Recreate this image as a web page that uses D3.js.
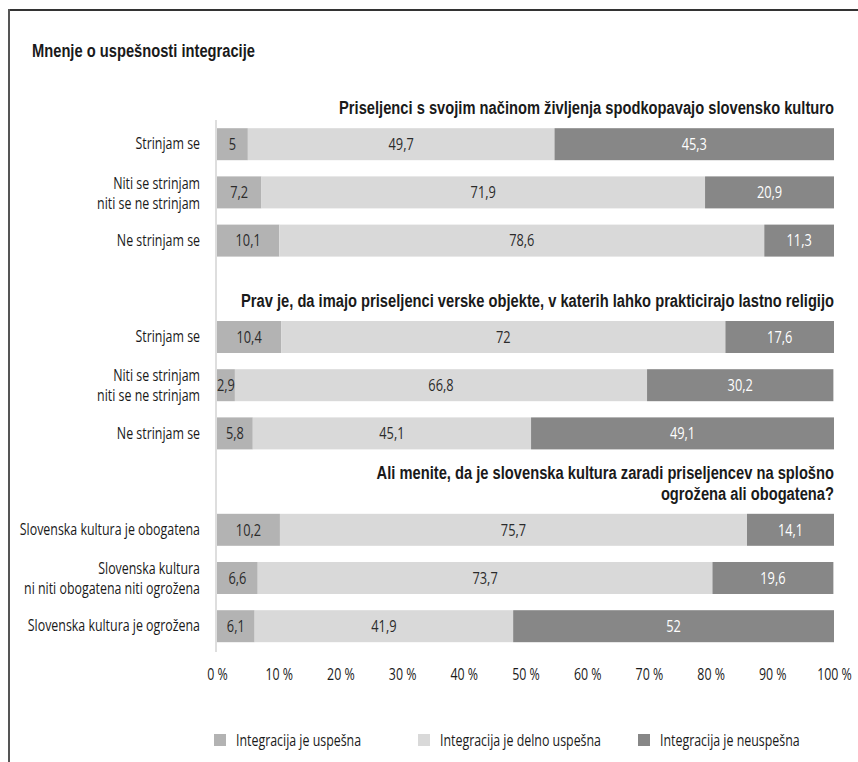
<!DOCTYPE html>
<html>
<head>
<meta charset="utf-8">
<script src="https://cdn.jsdelivr.net/npm/d3@7"></script>
<style>
  html, body { margin: 0; padding: 0; background: #fff; }
  svg text { font-family: "Open Sans", "Noto Sans", sans-serif; }
  svg text.bold { font-family: "Liberation Sans", Arial, sans-serif; font-weight: bold; }
</style>
</head>
<body>
<svg id="chart" width="858" height="762"></svg>
<script>
// Survey answers: share of respondents per integration verdict
const seriesNames = ["Integracija je uspešna", "Integracija je delno uspešna", "Integracija je neuspešna"];
const seriesColors = ["#b3b3b3", "#d9d9d9", "#878787"];
const labelColors = ["#2b2b2b", "#2b2b2b", "#ffffff"];

const groupTitles = [
  ["Priseljenci s svojim načinom življenja spodkopavajo slovensko kulturo"],
  ["Prav je, da imajo priseljenci verske objekte, v katerih lahko prakticirajo lastno religijo"],
  ["Ali menite, da je slovenska kultura zaradi priseljencev na splošno", "ogrožena ali obogatena?"]
];

const rowLabels = [
  [["Strinjam se"], ["Niti se strinjam", "niti se ne strinjam"], ["Ne strinjam se"]],
  [["Strinjam se"], ["Niti se strinjam", "niti se ne strinjam"], ["Ne strinjam se"]],
  [["Slovenska kultura je obogatena"], ["Slovenska kultura", "ni niti obogatena niti ogrožena"], ["Slovenska kultura je ogrožena"]]
];

const uspesna = [[5, 7.2, 10.1], [10.4, 2.9, 5.8], [10.2, 6.6, 6.1]];
const delnoUspesna = [[49.7, 71.9, 78.6], [72, 66.8, 45.1], [75.7, 73.7, 41.9]];
const neuspesna = [[45.3, 20.9, 11.3], [17.6, 30.2, 49.1], [14.1, 19.6, 52]];

const tickValues = [0, 10, 20, 30, 40, 50, 60, 70, 80, 90, 100];

// Horizontal squeeze that gives the condensed typeface look
const SQ = 0.8, SQ_BOLD = 0.84;

const svg = d3.select("#chart");

// Places a condensed (possibly multi-line) text block; (x, y) is the first line's anchor
function label(parent, x, y, lines, opts) {
  const bold = opts.weight === "bold";
  const arr = Array.isArray(lines) ? lines : [lines];
  const t = parent.append("text")
    .attr("class", bold ? "bold" : null)
    .attr("transform", `translate(${x},${y}) scale(${bold ? SQ_BOLD : SQ},1)`)
    .attr("text-anchor", opts.anchor || "start")
    .attr("font-size", opts.size)
    .attr("fill", opts.fill || "#1a1a1a");
  arr.forEach((line, j) => {
    t.append("tspan")
      .attr("x", 0)
      .attr("y", j * (opts.lineGap || 0))
      .attr("dy", opts.dy || 0)
      .text(line);
  });
  return t;
}

// Frame: top and left rules
svg.append("line").attr("x1", 9).attr("x2", 858).attr("y1", 10).attr("y2", 10)
  .attr("stroke", "#333").attr("stroke-width", 2);
svg.append("line").attr("x1", 9).attr("x2", 9).attr("y1", 9).attr("y2", 762)
  .attr("stroke", "#555").attr("stroke-width", 2);

label(svg, 32, 57, "Mnenje o uspešnosti integracije", { size: 17.5, weight: "bold" });

// One slot per group title, then one per answer row
const slots = [];
groupTitles.forEach((t, g) => {
  slots.push({ type: "title", g, key: "t" + g });
  rowLabels[g].forEach((r, i) => slots.push({ type: "row", g, i, key: "r" + g + "_" + i }));
});

const step = 48.2, barH = 32;
const y = d3.scaleBand()
  .domain(slots.map(s => s.key))
  .range([80, 80 + step * slots.length - (step - barH)])
  .paddingInner((step - barH) / step)
  .paddingOuter(0);

const x = d3.scaleLinear().domain([0, 100]).range([217, 834]);

// Rows
const rows = slots.filter(s => s.type === "row").map(s => {
  const vals = [uspesna[s.g][s.i], delnoUspesna[s.g][s.i], neuspesna[s.g][s.i]];
  let acc = 0;
  const segs = vals.map((v, k) => { const seg = { k, v, x0: acc, x1: acc + v }; acc += v; return seg; });
  return { ...s, segs, label: rowLabels[s.g][s.i] };
});

const fmt = v => String(v).replace(".", ",");

const rowG = svg.append("g").selectAll("g").data(rows).join("g")
  .attr("transform", d => `translate(0,${y(d.key)})`);

rowG.selectAll("rect").data(d => d.segs).join("rect")
  .attr("x", d => x(d.x0))
  .attr("width", d => x(d.x1) - x(d.x0))
  .attr("y", 0).attr("height", y.bandwidth())
  .attr("fill", d => seriesColors[d.k]);

rowG.each(function (d) {
  const g = d3.select(this);
  const c = y.bandwidth() / 2;
  // value labels centred in each segment
  d.segs.forEach(s => {
    label(g, (x(s.x0) + x(s.x1)) / 2, c, fmt(s.v),
      { size: 16, anchor: "middle", dy: "0.36em", fill: labelColors[s.k] });
  });
  // row category label
  const top = d.label.length === 1 ? c : c - 9;
  label(g, 200, top, d.label, { size: 15.5, anchor: "end", dy: "0.34em", lineGap: 20 });
});

// Group titles, right-aligned to the plot edge
slots.filter(s => s.type === "title").forEach(s => {
  const lines = groupTitles[s.g];
  const firstRowTop = y("r" + s.g + "_0");
  label(svg, 834, firstRowTop - 14 - (lines.length - 1) * 20.5, lines,
    { size: 17.5, weight: "bold", anchor: "end", lineGap: 20.5 });
});

// Baseline of the bars
svg.append("line")
  .attr("x1", x(0) - 1).attr("x2", x(0) - 1)
  .attr("y1", 120).attr("y2", 652)
  .attr("stroke", "#dedede").attr("stroke-width", 2);

// Percentage axis (labels only)
const axis = d3.axisBottom(x).tickValues(tickValues).tickSize(0).tickPadding(0)
  .tickFormat(d => d + " %");
const axG = svg.append("g").attr("transform", "translate(0,669)").call(axis);
axG.select(".domain").remove();
axG.selectAll("text")
  .attr("font-size", 15.5).attr("fill", "#1a1a1a")
  .attr("font-family", "\"Open Sans\", \"Noto Sans\", sans-serif")
  .attr("transform", `scale(${SQ},1)`);

// Legend
const legendX = [214, 418, 638];
const leg = svg.append("g").selectAll("g").data(seriesNames).join("g")
  .attr("transform", (d, i) => `translate(${legendX[i]},734)`);
leg.append("rect").attr("width", 12).attr("height", 12).attr("fill", (d, i) => seriesColors[i]);
leg.each(function (d) {
  label(d3.select(this), 22, 6, d, { size: 15.5, dy: "0.36em" });
});
</script>
</body>
</html>
